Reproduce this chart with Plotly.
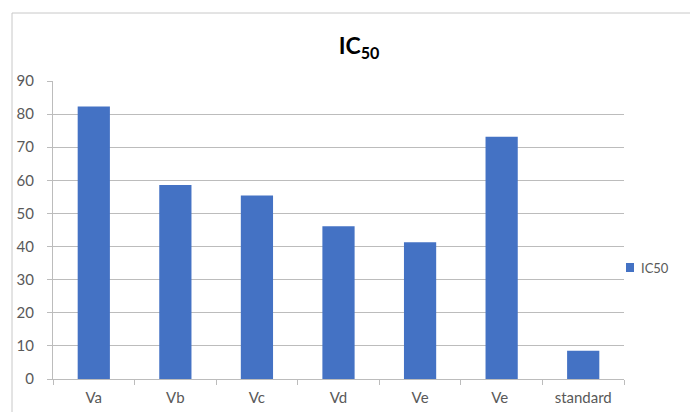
import plotly.graph_objects as go

categories = ["Va", "Vb", "Vc", "Vd", "Ve", "Ve ", "standard"]
values = [82.3, 58.6, 55.4, 46.1, 41.3, 73.2, 8.5]
series_name = "IC50"
y_ticks = [0, 10, 20, 30, 40, 50, 60, 70, 80, 90]

bar_color = "#4472c4"
grid = "#bcbcbc"
txt = "#595959"
font_family = "Lato, Carlito, Calibri, 'Open Sans', sans-serif"

# page offset from default body margin
OFF = 8
W, H = 698 - OFF, 412 - OFF
L, R, T, B = 53 - OFF, 624 - OFF, 81 - OFF, 379 - OFF
pw, ph = R - L, B - T

def px(x):
    return (x - OFF - L) / pw

def py(y):
    return (B - (y - OFF)) / ph

fig = go.Figure()
fig.add_trace(go.Bar(
    x=categories, y=values, name=series_name,
    marker=dict(color=bar_color, line=dict(width=0)),
    showlegend=False,
))

fig.update_layout(
    width=W, height=H,
    margin=dict(l=L, r=W - R, t=T, b=H - B, autoexpand=False),
    paper_bgcolor="white", plot_bgcolor="white",
    bargap=0.605,
    font=dict(family=font_family, size=15, color=txt),
    title=dict(
        text="<b>IC<sub>50</sub></b>",
        x=(359 - OFF) / W, xref="container", xanchor="center",
        y=1 - (46 - OFF) / H, yref="container", yanchor="middle",
        font=dict(size=23, color="#000000", family=font_family),
    ),
    shapes=[
        dict(type="rect", xref="paper", yref="paper",
             x0=px(12), x1=1.3, y0=-0.3, y1=py(13),
             line=dict(color="#c8c8c8", width=1),
             fillcolor="rgba(0,0,0,0)", layer="below"),
        dict(type="rect", xref="paper", yref="paper",
             x0=px(626), x1=px(634), y0=py(272), y1=py(263),
             line=dict(width=0), fillcolor=bar_color),
    ],
    annotations=[
        dict(text=series_name, xref="paper", yref="paper",
             x=px(639), y=py(267.5), xanchor="left", yanchor="middle",
             showarrow=False, font=dict(size=13, color=txt)),
    ],
)

fig.update_xaxes(
    type="category", automargin=False,
    showline=True, linecolor=grid, linewidth=1,
    ticks="outside", ticklen=5, tickcolor=grid, tickson="boundaries",
    showgrid=False, ticklabelstandoff=5,
    tickfont=dict(size=15, color=txt),
)
fig.update_yaxes(
    range=[0, 90], tickvals=y_ticks, automargin=False,
    showline=True, linecolor=grid, linewidth=1,
    showgrid=True, gridcolor=grid, gridwidth=1,
    ticks="outside", ticklen=5, tickcolor=grid,
    ticklabelstandoff=10, zeroline=False,
    tickfont=dict(size=15, color=txt),
)

fig.write_html("out.html")
